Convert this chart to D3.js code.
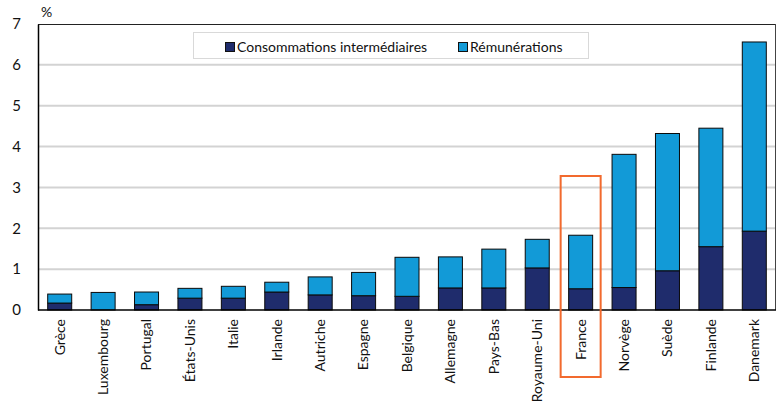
<!DOCTYPE html>
<html><head><meta charset="utf-8">
<script src="https://cdn.jsdelivr.net/npm/d3@7"></script>
<style>body{margin:0;background:#fff}svg{display:block}</style>
</head><body><svg id="c" width="778" height="403"></svg>
<script>
const categories = ["Grèce","Luxembourg","Portugal","États-Unis","Italie","Irlande","Autriche","Espagne","Belgique","Allemagne","Pays-Bas","Royaume-Uni","France","Norvège","Suède","Finlande","Danemark"];
const consommations = [0.17,0,0.13,0.29,0.29,0.44,0.37,0.35,0.335,0.54,0.54,1.03,0.52,0.55,0.96,1.55,1.93];
const totals = [0.39,0.43,0.44,0.53,0.58,0.68,0.81,0.92,1.29,1.30,1.49,1.73,1.83,3.81,4.32,4.45,6.56];
const remunerations = totals.map((t,i)=>+(t-consommations[i]).toFixed(3));
const yTicks = [0,1,2,3,4,5,6,7];
const seriesNames = ["Consommations intermédiaires","Rémunérations"];
const colors = ["#1f2c6c","#129ad7"];
const highlight = "France";

const svg = d3.select("#c");
const font = "Lato, 'Open Sans', sans-serif";
const L=38, R=776, T=24, B=310;
const x = d3.scaleBand().domain(categories).range([L,R]).paddingInner(0.447).paddingOuter(0.2235);
const y = d3.scaleLinear().domain([0,7]).range([B,T]);

// gridlines
svg.append("g").selectAll("line").data(yTicks.filter(d=>d>0&&d<7)).join("line")
  .attr("x1",L).attr("x2",R).attr("y1",d=>y(d)).attr("y2",d=>y(d))
  .attr("stroke","#d3d3d3").attr("stroke-width",2);

// frame top/right
svg.append("line").attr("x1",L).attr("x2",R).attr("y1",T+0.5).attr("y2",T+0.5).attr("stroke","#222").attr("stroke-width",1);
svg.append("line").attr("x1",R-0.5).attr("x2",R-0.5).attr("y1",T).attr("y2",B).attr("stroke","#444").attr("stroke-width",1);

// stacked data
const data = categories.map((c,i)=>({cat:c, "Consommations intermédiaires":consommations[i], "Rémunérations":remunerations[i]}));
const stacked = d3.stack().keys(seriesNames)(data);
const gBars = svg.append("g");
stacked.forEach((s,si)=>{
  gBars.append("g").selectAll("rect").data(s).join("rect")
    .attr("x",d=>x(d.data.cat)).attr("width",x.bandwidth())
    .attr("y",d=>y(d[1])).attr("height",d=>Math.max(0,y(d[0])-y(d[1])))
    .attr("fill",colors[si]).attr("stroke","#0a0a0a").attr("stroke-width",1)
    .attr("display",d=>d[1]-d[0]>0?null:"none");
});

// axes
const yAxis = svg.append("g").attr("transform",`translate(${L},0)`)
  .call(d3.axisLeft(y).tickValues(yTicks).tickSize(0).tickPadding(17).tickFormat(d3.format("d")));
yAxis.select(".domain").attr("stroke","#000").attr("stroke-width",1.5);
yAxis.selectAll("text").attr("font-family",font).attr("font-size",15).attr("fill","#111");

const xAxis = svg.append("g").attr("transform",`translate(0,${B})`)
  .call(d3.axisBottom(x).tickSize(0).tickPadding(0));
xAxis.select(".domain").attr("stroke","#000").attr("stroke-width",1.5).attr("d",`M${L},0H${R}`);
xAxis.selectAll("text").attr("font-family",font).attr("font-size",14).attr("fill","#111")
  .attr("transform","rotate(-90)").attr("text-anchor","end").attr("dy","0.35em").attr("x",-9).attr("y",0);

// % label
svg.append("text").attr("x",41).attr("y",17).text("%").attr("font-family",font).attr("font-size",14).attr("fill","#111");

// highlight box
svg.append("rect").attr("x",x(highlight)+x.bandwidth()/2-20).attr("width",40).attr("y",176).attr("height",201)
  .attr("fill","none").attr("stroke","#f26a2e").attr("stroke-width",2);

// legend
const lg = svg.append("g");
lg.append("rect").attr("x",193.5).attr("y",32.5).attr("width",395).attr("height",26).attr("fill","#fff").attr("stroke","#d9d9d9");
const legX = [225,458];
seriesNames.forEach((n,i)=>{
  lg.append("rect").attr("x",legX[i]+0.5).attr("y",42.5).attr("width",9).attr("height",9).attr("fill",colors[i]).attr("stroke","#111").attr("stroke-width",1);
  lg.append("text").attr("x",legX[i]+12).attr("y",52).text(n).attr("font-family",font).attr("font-size",14).attr("fill","#111");
});
</script></body></html>
